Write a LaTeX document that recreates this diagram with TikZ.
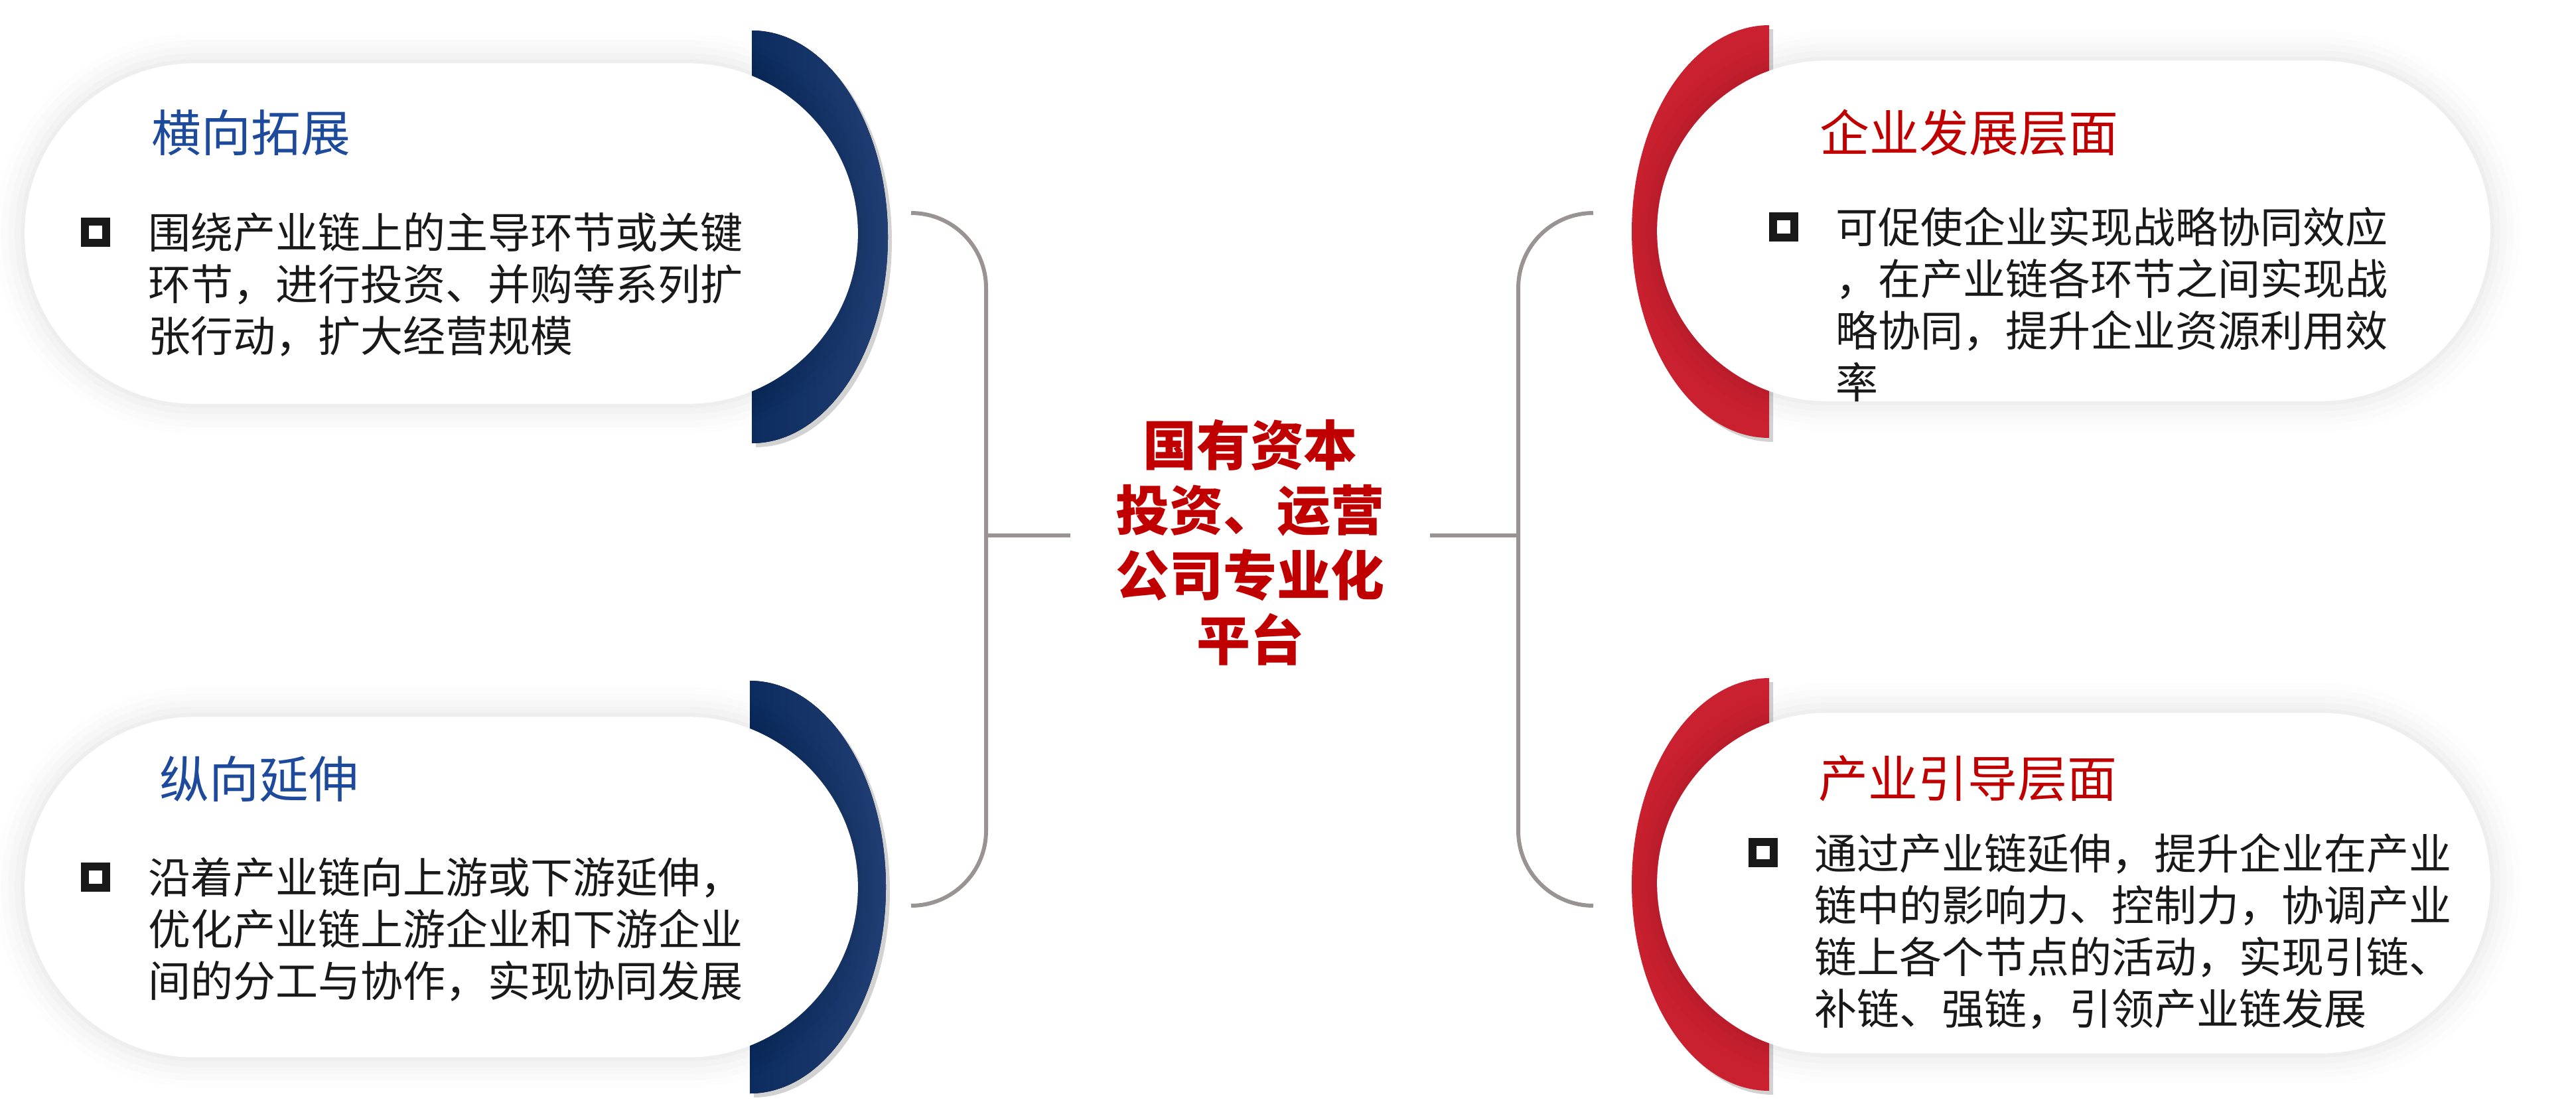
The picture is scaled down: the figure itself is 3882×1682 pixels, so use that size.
\documentclass[tikz,border=0pt]{standalone}
\usepackage{fontspec}
\setmainfont{Noto Sans CJK SC}
\usetikzlibrary{shapes.misc,shadows}
\definecolor{navy}{HTML}{0C2B5E}
\definecolor{navylight}{HTML}{213F74}
\definecolor{crimson}{HTML}{CA2130}
\definecolor{titleblue}{HTML}{1E4A9B}
\definecolor{titlered}{HTML}{C00000}
\definecolor{bracketgray}{HTML}{9A9394}

\begin{document}
\begin{tikzpicture}[x=0.01cm,y=-0.01cm,
  card/.style={rounded rectangle,fill=white,minimum width=12.55cm,minimum height=5.13cm,inner sep=0pt,
    preaction={draw=black,draw opacity=0.008,line width=0.9cm},
    preaction={draw=black,draw opacity=0.01,line width=0.7cm},
    preaction={draw=black,draw opacity=0.012,line width=0.5cm},
    preaction={draw=black,draw opacity=0.015,line width=0.3cm},
    preaction={draw=black,draw opacity=0.02,line width=0.12cm}},
  crescent/.style={drop shadow={fill=black!70,opacity=0.25,shadow xshift=0.06cm,shadow yshift=-0.06cm}},
  title/.style={anchor=west,inner sep=0pt,font=\fontsize{21.3}{25}\selectfont},
  bullet/.style={draw=black!90,line width=0.12cm,fill=white,minimum size=0.32cm,inner sep=0pt},
  body/.style={anchor=north west,inner sep=0pt,align=left,text=black!90,font=\fontsize{18.2}{22.2}\selectfont},
  bracket/.style={draw=bracketgray,line width=1.7pt}]
\useasboundingbox (0,0) rectangle (3882,1682);

% crescents behind the cards
\fill[crescent,left color=navy,right color=navylight] (1133,46) arc[start angle=-90,end angle=90,x radius=205,y radius=311] -- cycle;
\fill[crescent,left color=navy,right color=navylight] (1130,1026) arc[start angle=-90,end angle=90,x radius=205,y radius=311] -- cycle;
\fill[crescent,crimson] (2666,38) arc[start angle=-90,end angle=-270,x radius=207,y radius=311] -- cycle;
\fill[crescent,crimson] (2666,1022) arc[start angle=-90,end angle=-270,x radius=207,y radius=311] -- cycle;

% cards
\node (tlcard) [card] at (665,352) {};
\node (blcard) [card] at (665,1337) {};
\node (trcard) [card] at (3125,348) {};
\node (brcard) [card] at (3125,1331) {};

\node (tltitle) [title,text=titleblue] at (228,200) {横向拓展};
\node (tlbul) [bullet] at (144,350) {};
\node (tlbody) [body] at (223,320) {围绕产业链上的主导环节或关键\\环节，进行投资、并购等系列扩\\张行动，扩大经营规模};

\node (bltitle) [title,text=titleblue] at (240,1174) {纵向延伸};
\node (blbul) [bullet] at (144,1322) {};
\node (blbody) [body] at (223,1292) {沿着产业链向上游或下游延伸，\\优化产业链上游企业和下游企业\\间的分工与协作，实现协同发展};

\node (trtitle) [title,text=titlered] at (2742,200) {企业发展层面};
\node (trbul) [bullet] at (2688,342) {};
\node (trbody) [body] at (2766,311) {可促使企业实现战略协同效应\\，在产业链各环节之间实现战\\略协同，提升企业资源利用效\\率};

\node (brtitle) [title,text=titlered] at (2740,1173) {产业引导层面};
\node (brbul) [bullet] at (2657,1285) {};
\node (brbody) [body] at (2734,1255) {通过产业链延伸，提升企业在产业\\链中的影响力、控制力，协调产业\\链上各个节点的活动，实现引链、\\补链、强链，引领产业链发展};

% centre
\node (hub) [align=center,text=titlered,minimum width=5.4cm,font=\bfseries\fontsize{23}{27.9}\selectfont] at (1884,818) {国有资本\\投资、运营\\公司专业化\\平台};

% brackets
\coordinate (ltop) at (1373,321);
\coordinate (lbot) at (1373,1365);
\coordinate (lbar) at (1486,807);
\coordinate (rtop) at (2401,321);
\coordinate (rbot) at (2401,1365);
\coordinate (rbar) at (2288,807);
\draw[bracket] (ltop) arc[start angle=-90,end angle=0,radius=113] -- (1486,1252) arc[start angle=0,end angle=90,radius=113];
\draw[bracket] (lbar) -- (lbar -| hub.west);
\draw[bracket] (rtop) arc[start angle=-90,end angle=-180,radius=113] -- (2288,1252) arc[start angle=180,end angle=90,radius=113];
\draw[bracket] (rbar) -- (rbar -| hub.east);
\end{tikzpicture}
\end{document}
